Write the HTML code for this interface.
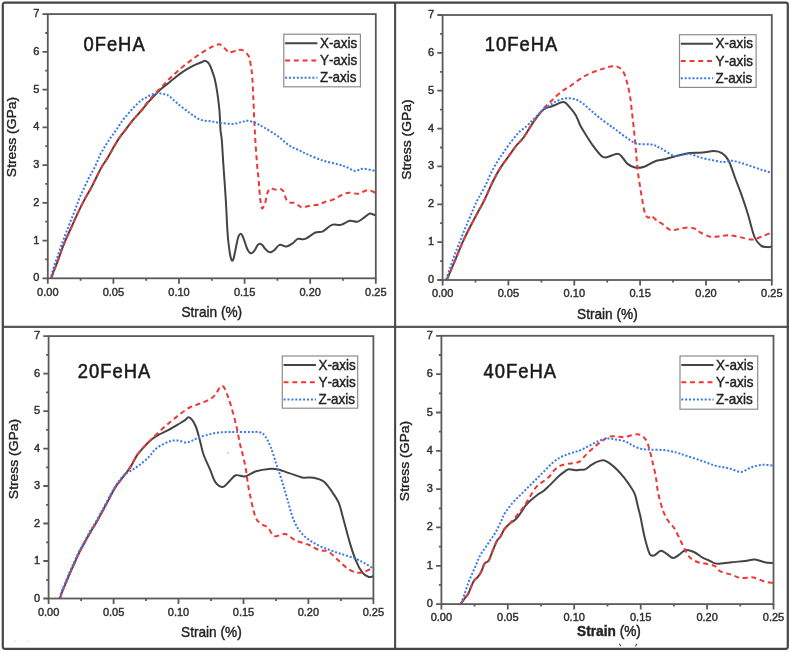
<!DOCTYPE html><html><head><meta charset="utf-8"><style>html,body{margin:0;padding:0;background:#fff;}svg{display:block;filter:blur(0.35px);}text{font-family:"Liberation Sans",sans-serif;font-kerning:none;} .t{fill:#222;stroke:#222;stroke-width:0.4px;} .tk{stroke-width:0.45px;fill:#303030;stroke:#303030;} .ti{fill:#1a1a1a;stroke:#1a1a1a;stroke-width:0.55px;}</style></head><body>
<svg width="790" height="652" viewBox="0 0 790 652">
<rect width="790" height="652" fill="#fff"/>
<clipPath id="c0"><rect x="47.8" y="12.1" width="328.0" height="268.2"/></clipPath>
<g clip-path="url(#c0)" fill="none" stroke-width="2" stroke-linejoin="round">
<path d="M51.2 278.0 C51.7 276.8 53.0 273.1 54.0 270.5 C55.0 267.9 55.5 267.1 57.1 262.7 C58.8 258.3 61.6 249.8 63.9 244.2 C66.1 238.6 68.3 234.1 70.6 229.0 C72.8 223.9 75.2 218.6 77.4 213.8 C79.7 209.0 81.9 204.6 84.1 200.4 C86.3 196.2 88.9 192.0 90.8 188.5 C92.7 185.0 93.5 183.1 95.3 179.5 C97.1 175.9 99.5 170.8 101.6 167.2 C103.7 163.5 105.7 161.0 107.8 157.6 C109.9 154.2 112.0 149.9 114.0 146.6 C116.0 143.3 117.4 140.6 119.5 137.6 C121.6 134.6 124.1 131.6 126.4 128.6 C128.7 125.6 131.4 122.0 133.3 119.7 C135.2 117.4 136.3 116.3 137.8 114.6 C139.3 112.9 140.4 111.7 142.3 109.5 C144.2 107.3 147.0 103.7 149.2 101.2 C151.3 98.7 153.3 96.7 155.2 94.7 C157.1 92.7 158.9 90.8 160.7 89.2 C162.5 87.6 164.3 86.2 165.8 85.1 C167.3 83.9 168.2 83.3 169.5 82.3 C170.8 81.2 171.7 80.4 173.7 78.8 C175.7 77.2 178.6 74.6 181.3 72.8 C184.0 71.0 187.0 69.2 189.7 67.7 C192.4 66.2 195.3 64.8 197.3 63.9 C199.3 63.0 200.2 62.7 201.5 62.2 C202.8 61.7 203.8 60.7 204.9 60.8 C206.0 60.9 207.2 61.7 208.2 62.7 C209.1 63.7 209.8 65.2 210.6 66.8 C211.3 68.4 212.0 70.5 212.7 72.6 C213.4 74.7 214.1 76.1 214.8 79.2 C215.5 82.3 216.3 86.2 217.1 91.3 C217.9 96.4 218.8 103.3 219.4 109.8 C220.0 116.2 220.1 125.0 220.5 130.0 C220.9 135.0 221.3 134.2 221.8 140.0 C222.3 145.8 222.7 155.0 223.4 165.0 C224.1 175.0 225.2 190.0 225.8 200.0 C226.4 210.0 226.8 219.2 227.1 225.0 C227.4 230.8 227.4 231.3 227.7 234.5 C227.9 237.7 228.2 240.8 228.6 244.0 C229.0 247.2 229.5 251.0 229.9 253.5 C230.3 256.0 230.8 258.0 231.2 259.2 C231.6 260.4 231.7 260.8 232.1 260.8 C232.5 260.8 232.9 260.6 233.4 259.2 C233.9 257.8 234.4 254.9 235.0 252.2 C235.6 249.4 236.3 245.3 236.9 242.7 C237.5 240.1 237.9 237.9 238.5 236.4 C239.1 234.9 239.8 234.1 240.4 233.9 C241.0 233.7 241.7 234.4 242.3 235.4 C242.9 236.4 243.6 238.4 244.2 240.2 C244.8 241.9 245.5 244.2 246.1 245.9 C246.7 247.6 247.2 249.1 247.9 250.3 C248.6 251.5 249.7 252.9 250.5 253.2 C251.3 253.5 252.2 252.9 253.0 252.2 C253.8 251.5 254.8 250.2 255.5 249.0 C256.2 247.8 256.6 246.2 257.4 245.3 C258.1 244.4 259.1 243.7 260.0 243.7 C260.9 243.7 261.7 244.5 262.5 245.3 C263.3 246.1 264.1 247.6 265.0 248.7 C265.9 249.8 267.2 251.0 268.2 251.6 C269.2 252.2 269.9 252.5 271.0 252.2 C272.1 251.9 273.1 251.2 274.5 250.0 C275.9 248.8 277.6 245.5 279.6 244.9 C281.6 244.3 284.1 246.8 286.3 246.5 C288.5 246.2 290.8 244.6 292.7 243.3 C294.6 242.0 295.6 239.6 297.7 238.9 C299.8 238.2 302.4 240.0 305.3 238.9 C308.2 237.8 312.4 233.8 315.4 232.5 C318.3 231.2 320.2 232.6 323.0 231.3 C325.8 230.0 328.9 226.0 331.9 224.9 C334.9 223.8 337.9 225.6 340.8 224.9 C343.8 224.2 346.9 221.3 349.6 220.8 C352.3 220.3 354.9 222.3 357.2 221.8 C359.5 221.3 361.4 219.4 363.5 218.0 C365.6 216.6 367.9 213.9 369.9 213.5 C371.9 213.1 374.7 215.3 375.6 215.7" stroke="#444"/>
<path d="M51.2 278.0 C51.7 276.8 53.0 273.1 54.0 270.5 C55.0 267.9 55.5 267.1 57.1 262.7 C58.8 258.3 61.6 249.8 63.9 244.2 C66.1 238.6 68.3 234.1 70.6 229.0 C72.8 223.9 75.2 218.6 77.4 213.8 C79.7 209.0 81.9 204.6 84.1 200.4 C86.3 196.2 88.9 192.0 90.8 188.5 C92.7 185.0 93.5 183.1 95.3 179.5 C97.1 175.9 99.5 170.8 101.6 167.2 C103.7 163.5 105.7 161.0 107.8 157.6 C109.9 154.2 112.0 149.9 114.0 146.6 C116.0 143.3 117.4 140.6 119.5 137.6 C121.6 134.6 124.1 131.6 126.4 128.6 C128.7 125.6 131.4 122.0 133.3 119.7 C135.2 117.4 136.3 116.3 137.8 114.6 C139.3 112.9 140.9 111.2 142.3 109.5 C143.7 107.8 144.5 106.2 146.0 104.2 C147.5 102.2 149.6 99.7 151.5 97.5 C153.4 95.3 155.4 93.2 157.5 91.0 C159.6 88.8 161.9 86.6 163.9 84.6 C165.9 82.5 167.4 80.7 169.5 78.7 C171.6 76.7 173.9 74.4 176.2 72.4 C178.4 70.4 180.8 68.3 183.0 66.5 C185.2 64.7 187.4 63.1 189.7 61.4 C191.9 59.7 194.1 58.0 196.5 56.3 C198.9 54.6 201.5 52.9 204.1 51.3 C206.7 49.7 209.8 47.8 212.3 46.6 C214.8 45.4 217.4 44.4 218.9 44.2 C220.4 44.0 220.1 44.5 221.3 45.4 C222.5 46.3 225.1 48.7 226.3 49.9 C227.5 51.1 227.3 52.2 228.7 52.4 C230.1 52.6 233.0 51.6 234.5 51.2 C236.0 50.9 236.6 50.5 237.8 50.3 C239.0 50.1 240.7 49.6 241.9 49.9 C243.1 50.2 244.1 51.0 245.2 52.0 C246.3 53.0 247.8 54.5 248.5 55.7 C249.2 56.9 249.3 57.5 249.7 59.4 C250.1 61.2 250.6 64.0 251.0 66.8 C251.4 69.5 251.8 70.7 252.2 75.9 C252.6 81.1 253.0 90.5 253.3 98.0 C253.7 105.5 253.9 113.2 254.3 120.7 C254.7 128.2 255.0 135.4 255.5 143.0 C256.0 150.6 256.7 160.1 257.2 166.0 C257.7 171.9 258.1 174.3 258.5 178.2 C258.9 182.1 259.1 186.2 259.4 189.6 C259.7 193.0 259.8 195.8 260.1 198.4 C260.4 201.0 261.0 203.7 261.4 205.4 C261.8 207.1 261.7 208.7 262.3 208.5 C262.9 208.3 264.2 206.1 264.9 204.1 C265.6 202.1 266.0 198.6 266.5 196.5 C267.0 194.4 267.4 192.9 268.0 191.5 C268.6 190.1 269.5 188.7 270.3 188.3 C271.1 187.9 271.7 188.6 272.8 188.9 C273.9 189.2 275.8 189.9 277.2 189.9 C278.6 189.9 279.9 188.9 281.0 189.2 C282.1 189.5 282.8 190.2 283.5 191.5 C284.2 192.8 284.8 195.6 285.4 197.2 C286.0 198.8 286.4 200.1 287.3 201.0 C288.2 201.9 289.3 202.5 290.5 202.8 C291.7 203.1 292.8 202.3 294.3 202.8 C295.8 203.3 298.1 205.2 299.4 206.0 C300.7 206.8 300.6 207.6 302.2 207.6 C303.8 207.6 306.5 206.4 309.1 205.9 C311.7 205.4 315.5 205.3 318.0 204.7 C320.5 204.1 321.8 203.0 324.3 202.2 C326.8 201.3 330.2 200.8 333.2 199.6 C336.1 198.4 339.4 196.1 342.0 194.9 C344.6 193.8 346.2 192.9 349.0 192.7 C351.8 192.5 355.4 194.1 358.5 193.7 C361.6 193.3 364.4 190.3 367.3 190.1 C370.2 189.9 374.2 192.3 375.6 192.7" stroke="#f03535" stroke-dasharray="5 3.6"/>
<path d="M51.2 276.2 C51.7 274.6 53.0 269.6 54.0 266.5 C55.0 263.4 55.6 262.0 57.1 257.7 C58.6 253.4 61.0 246.2 63.0 240.8 C65.0 235.5 66.9 230.7 68.9 225.6 C70.9 220.5 72.8 215.6 74.8 210.5 C76.8 205.4 78.4 200.6 80.7 195.3 C83.0 190.1 86.1 183.7 88.4 179.0 C90.7 174.3 92.7 171.2 94.7 167.2 C96.7 163.2 98.4 158.5 100.2 154.8 C102.0 151.1 103.9 148.2 105.7 145.2 C107.5 142.2 109.4 139.6 111.2 136.9 C113.0 134.2 114.9 132.0 116.7 129.3 C118.5 126.7 120.4 123.5 122.2 121.0 C124.0 118.5 125.9 116.3 127.8 114.1 C129.7 111.9 131.7 109.7 133.3 107.9 C134.9 106.2 136.2 104.9 137.5 103.6 C138.8 102.3 140.2 101.1 141.4 100.2 C142.6 99.3 143.5 99.0 144.6 98.4 C145.7 97.8 146.7 97.2 147.8 96.6 C148.9 96.0 149.8 95.2 151.0 94.7 C152.2 94.2 153.5 94.0 154.7 93.8 C155.9 93.6 157.1 93.3 158.4 93.3 C159.7 93.3 161.2 93.6 162.5 93.8 C163.8 94.0 165.0 94.3 166.2 94.7 C167.4 95.1 167.7 94.9 169.5 96.3 C171.3 97.7 173.8 100.5 177.1 103.2 C180.4 106.0 185.6 110.0 189.5 112.8 C193.4 115.5 196.7 118.3 200.3 119.7 C203.9 121.1 207.7 120.8 211.0 121.3 C214.3 121.8 216.6 122.4 220.2 122.8 C223.8 123.2 228.9 124.0 232.5 123.9 C236.1 123.8 239.1 122.5 241.7 122.0 C244.2 121.5 245.2 120.5 247.8 120.8 C250.4 121.1 254.2 122.4 257.0 123.6 C259.8 124.8 261.1 125.8 264.4 127.7 C267.7 129.7 272.6 132.4 276.7 135.3 C280.8 138.2 285.1 142.7 289.0 145.3 C292.9 147.9 296.9 149.2 300.0 150.7 C303.1 152.2 303.8 152.8 307.6 154.4 C311.4 156.1 317.8 158.9 322.9 160.6 C328.0 162.3 334.2 163.2 338.3 164.4 C342.4 165.6 344.7 166.4 347.5 167.5 C350.3 168.6 352.6 170.7 355.2 170.9 C357.8 171.1 359.5 168.7 362.8 168.7 C366.1 168.7 373.1 170.5 375.1 170.9" stroke="#3a78ea" stroke-dasharray="2 1.85"/>
</g>
<rect x="47.8" y="14.1" width="328.0" height="264.2" fill="none" stroke="#5a5a5a" stroke-width="1.8"/>
<path d="M42.5 278.3H47.8M45.3 259.4H47.8M42.5 240.6H47.8M45.3 221.7H47.8M42.5 202.8H47.8M45.3 183.9H47.8M42.5 165.1H47.8M45.3 146.2H47.8M42.5 127.3H47.8M45.3 108.5H47.8M42.5 89.6H47.8M45.3 70.7H47.8M42.5 51.8H47.8M45.3 33.0H47.8M42.5 14.1H47.8M47.8 278.3V283.8M80.6 278.3V280.8M113.4 278.3V283.8M146.2 278.3V280.8M179.0 278.3V283.8M211.8 278.3V280.8M244.6 278.3V283.8M277.4 278.3V280.8M310.2 278.3V283.8M343.0 278.3V280.8M375.8 278.3V283.8" stroke="#5a5a5a" stroke-width="1.8" fill="none"/>
<text transform="translate(39.4 281.3) scale(0.95 1)" font-size="11.6" text-anchor="end" class="t tk">0</text>
<text transform="translate(39.4 243.6) scale(0.95 1)" font-size="11.6" text-anchor="end" class="t tk">1</text>
<text transform="translate(39.4 205.8) scale(0.95 1)" font-size="11.6" text-anchor="end" class="t tk">2</text>
<text transform="translate(39.4 168.1) scale(0.95 1)" font-size="11.6" text-anchor="end" class="t tk">3</text>
<text transform="translate(39.4 130.3) scale(0.95 1)" font-size="11.6" text-anchor="end" class="t tk">4</text>
<text transform="translate(39.4 92.6) scale(0.95 1)" font-size="11.6" text-anchor="end" class="t tk">5</text>
<text transform="translate(39.4 54.8) scale(0.95 1)" font-size="11.6" text-anchor="end" class="t tk">6</text>
<text transform="translate(39.4 17.1) scale(0.95 1)" font-size="11.6" text-anchor="end" class="t tk">7</text>
<text transform="translate(47.8 295.5) scale(0.95 1)" font-size="11.6" text-anchor="middle" class="t tk">0.00</text>
<text transform="translate(113.4 295.5) scale(0.95 1)" font-size="11.6" text-anchor="middle" class="t tk">0.05</text>
<text transform="translate(179.0 295.5) scale(0.95 1)" font-size="11.6" text-anchor="middle" class="t tk">0.10</text>
<text transform="translate(244.6 295.5) scale(0.95 1)" font-size="11.6" text-anchor="middle" class="t tk">0.15</text>
<text transform="translate(310.2 295.5) scale(0.95 1)" font-size="11.6" text-anchor="middle" class="t tk">0.20</text>
<text transform="translate(375.8 295.5) scale(0.95 1)" font-size="11.6" text-anchor="middle" class="t tk">0.25</text>
<text transform="translate(16.4 137.0) rotate(-90) scale(1 0.9)" font-size="13.9" text-anchor="middle" class="t">Stress (GPa)</text>
<text transform="translate(211.8 317.2) scale(0.95 1)" font-size="14.4" text-anchor="middle" class="t">Strain<tspan font-weight="normal"> (%)</tspan></text>
<text transform="translate(83.4 50.9) scale(0.92 1)" font-size="20" letter-spacing="1.1" class="ti">0FeHA</text>
<rect x="283.8" y="34.2" width="76.6" height="52.6" fill="#fff" stroke="#8c8c8c" stroke-width="1.2"/>
<path d="M285.1 43.2H317.4" stroke="#444" stroke-width="2"/>
<text transform="translate(319.9 47.9) scale(0.95 1)" font-size="14.2" class="t">X-axis</text>
<path d="M285.1 60.5H317.4" stroke="#f03535" stroke-width="2" stroke-dasharray="4.9 3.85"/>
<text transform="translate(319.9 65.2) scale(0.95 1)" font-size="14.2" class="t">Y-axis</text>
<path d="M285.1 77.7H317.4" stroke="#3a78ea" stroke-width="2" stroke-dasharray="2 1.9"/>
<text transform="translate(319.9 82.4) scale(0.95 1)" font-size="14.2" class="t">Z-axis</text>
<clipPath id="c1"><rect x="442.6" y="13.0" width="329.2" height="269.0"/></clipPath>
<g clip-path="url(#c1)" fill="none" stroke-width="2" stroke-linejoin="round">
<path d="M446.9 279.7 C448.3 276.4 452.6 266.2 455.3 259.8 C458.0 253.4 460.2 247.5 463.0 241.3 C465.8 235.2 469.6 227.9 472.2 222.9 C474.8 217.9 476.3 215.1 478.4 211.2 C480.5 207.3 482.2 204.6 484.6 199.6 C487.0 194.6 490.3 186.6 493.0 181.2 C495.7 175.8 498.1 171.5 500.7 167.4 C503.2 163.3 505.8 160.3 508.3 156.7 C510.9 153.1 513.5 149.2 516.0 146.0 C518.5 142.8 521.3 140.6 523.6 137.5 C525.9 134.4 527.8 130.8 529.8 127.6 C531.8 124.4 533.9 121.2 535.9 118.4 C537.9 115.6 540.2 112.5 542.0 110.7 C543.8 108.9 545.3 108.3 546.6 107.7 C547.9 107.1 548.7 107.3 550.0 106.9 C551.3 106.5 552.2 106.0 554.5 105.2 C556.8 104.4 561.2 101.5 563.8 102.0 C566.4 102.5 568.2 105.7 570.2 107.9 C572.2 110.1 574.1 112.3 575.8 115.2 C577.5 118.1 578.6 122.2 580.3 125.5 C582.0 128.8 583.7 131.3 585.8 134.7 C587.9 138.1 590.6 142.4 593.1 145.8 C595.6 149.2 598.4 153.1 600.5 155.0 C602.6 156.9 602.7 157.7 605.5 157.5 C608.3 157.3 614.6 153.8 617.5 153.8 C620.4 153.8 620.9 156.0 622.6 157.7 C624.3 159.4 625.5 162.2 627.6 163.9 C629.7 165.6 632.2 167.1 635.0 167.6 C637.8 168.1 640.8 167.8 644.2 166.7 C647.6 165.6 651.8 162.4 655.2 161.2 C658.6 160.0 660.8 160.2 664.5 159.3 C668.2 158.4 673.0 156.8 677.3 155.7 C681.6 154.6 685.9 153.4 690.2 152.9 C694.5 152.4 699.0 152.9 702.9 152.6 C706.8 152.3 710.5 151.0 713.7 151.1 C716.9 151.2 719.8 151.7 722.3 153.3 C724.8 154.9 726.6 156.7 728.7 160.8 C730.8 164.9 733.0 172.3 735.1 178.0 C737.2 183.7 739.5 189.0 741.6 195.1 C743.8 201.2 745.9 207.5 748.0 214.5 C750.1 221.5 752.4 231.8 754.5 237.0 C756.6 242.2 758.8 243.9 760.9 245.6 C763.0 247.3 765.5 246.9 767.3 247.1 C769.1 247.3 770.9 246.8 771.6 246.7" stroke="#444"/>
<path d="M446.9 279.7 C448.3 276.4 452.6 266.2 455.3 259.8 C458.0 253.4 460.2 247.5 463.0 241.3 C465.8 235.2 469.6 227.9 472.2 222.9 C474.8 217.9 476.3 215.1 478.4 211.2 C480.5 207.3 482.2 204.6 484.6 199.6 C487.0 194.6 490.3 186.6 493.0 181.2 C495.7 175.8 498.1 171.5 500.7 167.4 C503.2 163.3 505.8 160.3 508.3 156.7 C510.9 153.1 513.5 149.2 516.0 146.0 C518.5 142.8 521.3 140.6 523.6 137.5 C525.9 134.4 527.8 130.8 529.8 127.6 C531.8 124.4 533.9 121.2 535.9 118.4 C537.9 115.6 540.3 112.8 542.0 110.7 C543.7 108.6 544.7 107.4 546.0 106.0 C547.3 104.6 548.6 103.7 550.0 102.3 C551.4 100.9 552.3 99.8 554.5 97.8 C556.7 95.8 560.2 92.6 563.1 90.5 C566.0 88.4 568.5 87.2 571.7 85.0 C574.9 82.8 578.5 79.8 582.1 77.6 C585.7 75.4 589.4 73.6 593.1 72.1 C596.8 70.6 601.0 69.4 604.2 68.4 C607.4 67.4 610.0 66.4 612.5 66.2 C615.0 66.0 617.1 66.5 618.9 67.5 C620.7 68.5 622.1 69.5 623.5 72.1 C624.9 74.7 626.1 79.1 627.2 83.1 C628.3 87.1 629.2 91.4 630.0 96.0 C630.8 100.6 631.2 105.6 631.8 110.8 C632.4 116.0 633.1 121.5 633.7 127.3 C634.3 133.1 635.0 140.4 635.5 145.8 C636.0 151.2 636.3 155.6 636.7 160.0 C637.1 164.4 637.3 167.6 637.9 172.3 C638.5 177.0 639.5 183.1 640.3 188.2 C641.1 193.3 642.0 198.6 642.8 202.9 C643.6 207.2 644.3 211.5 645.2 214.0 C646.1 216.5 647.3 217.4 648.3 217.7 C649.3 218.0 650.1 215.4 651.4 215.8 C652.7 216.2 654.4 218.7 656.3 220.1 C658.2 221.5 660.6 222.8 663.0 224.4 C665.4 226.1 667.9 229.2 670.4 230.0 C672.9 230.8 674.9 229.7 677.8 229.3 C680.7 228.9 684.7 227.6 687.6 227.5 C690.5 227.4 692.8 227.8 695.0 228.7 C697.2 229.5 697.9 231.2 700.6 232.6 C703.3 234.0 708.0 236.4 711.2 237.0 C714.4 237.6 717.1 236.4 720.0 236.1 C722.9 235.8 725.6 235.0 728.8 235.2 C732.0 235.3 735.6 236.3 739.4 237.0 C743.2 237.7 748.2 239.6 751.7 239.6 C755.2 239.6 757.2 238.2 760.5 237.0 C763.8 235.8 769.8 233.3 771.6 232.6" stroke="#f03535" stroke-dasharray="5 3.6"/>
<path d="M446.1 279.7 C446.8 277.8 448.7 271.8 450.0 268.0 C451.3 264.2 452.6 260.4 453.8 257.0 C455.1 253.6 456.2 250.8 457.5 247.5 C458.8 244.2 460.2 240.8 461.5 237.5 C462.8 234.2 464.1 230.8 465.5 227.5 C466.9 224.2 468.4 220.8 469.8 217.5 C471.2 214.2 472.6 210.7 474.0 207.5 C475.4 204.3 476.5 201.7 478.4 198.1 C480.3 194.5 483.1 190.2 485.3 185.8 C487.5 181.5 489.4 176.1 491.5 172.0 C493.6 167.9 495.6 164.6 497.6 161.3 C499.6 158.0 501.4 155.4 503.7 152.1 C506.0 148.8 508.8 144.7 511.4 141.4 C513.9 138.1 516.5 134.8 519.0 132.2 C521.5 129.6 524.4 128.1 526.7 126.1 C529.0 124.0 530.8 122.0 532.8 119.9 C534.8 117.9 537.0 115.7 539.0 113.8 C541.0 111.9 543.3 110.1 545.1 108.6 C546.9 107.1 548.4 106.1 550.0 105.0 C551.6 103.9 552.5 103.2 554.5 102.2 C556.5 101.2 559.4 99.8 561.9 99.1 C564.4 98.4 566.8 98.2 569.3 98.3 C571.8 98.4 574.4 98.8 576.6 99.7 C578.9 100.6 580.3 101.6 582.8 103.4 C585.2 105.2 588.4 108.3 591.3 110.8 C594.1 113.2 596.8 115.6 599.9 118.1 C603.0 120.5 607.5 123.7 610.0 125.5 C612.5 127.3 612.5 127.2 615.2 129.2 C617.9 131.2 622.7 135.1 626.3 137.5 C629.9 139.9 632.6 142.5 636.8 143.7 C641.0 144.9 647.6 143.8 651.6 144.6 C655.6 145.4 657.1 146.5 660.8 148.3 C664.5 150.2 670.0 154.6 673.7 155.7 C677.4 156.8 680.2 155.0 682.9 154.7 C685.6 154.4 687.0 153.6 690.0 154.1 C693.0 154.6 696.8 156.6 700.6 157.6 C704.4 158.6 709.1 159.6 712.9 160.3 C716.7 161.0 720.3 161.9 723.5 162.0 C726.7 162.1 729.4 160.7 732.3 160.8 C735.2 161.0 737.9 162.0 741.1 162.9 C744.3 163.8 748.2 165.3 751.7 166.5 C755.2 167.7 759.1 169.0 762.3 170.0 C765.5 171.0 769.6 172.2 771.1 172.6" stroke="#3a78ea" stroke-dasharray="2 1.85"/>
</g>
<rect x="442.6" y="15.0" width="329.2" height="265.0" fill="none" stroke="#5a5a5a" stroke-width="1.8"/>
<path d="M437.3 280.0H442.6M440.1 261.1H442.6M437.3 242.1H442.6M440.1 223.2H442.6M437.3 204.3H442.6M440.1 185.4H442.6M437.3 166.4H442.6M440.1 147.5H442.6M437.3 128.6H442.6M440.1 109.6H442.6M437.3 90.7H442.6M440.1 71.8H442.6M437.3 52.9H442.6M440.1 33.9H442.6M437.3 15.0H442.6M442.6 280.0V285.5M475.5 280.0V282.5M508.4 280.0V285.5M541.4 280.0V282.5M574.3 280.0V285.5M607.2 280.0V282.5M640.1 280.0V285.5M673.0 280.0V282.5M706.0 280.0V285.5M738.9 280.0V282.5M771.8 280.0V285.5" stroke="#5a5a5a" stroke-width="1.8" fill="none"/>
<text transform="translate(434.2 283.0) scale(0.95 1)" font-size="11.6" text-anchor="end" class="t tk">0</text>
<text transform="translate(434.2 245.1) scale(0.95 1)" font-size="11.6" text-anchor="end" class="t tk">1</text>
<text transform="translate(434.2 207.3) scale(0.95 1)" font-size="11.6" text-anchor="end" class="t tk">2</text>
<text transform="translate(434.2 169.4) scale(0.95 1)" font-size="11.6" text-anchor="end" class="t tk">3</text>
<text transform="translate(434.2 131.6) scale(0.95 1)" font-size="11.6" text-anchor="end" class="t tk">4</text>
<text transform="translate(434.2 93.7) scale(0.95 1)" font-size="11.6" text-anchor="end" class="t tk">5</text>
<text transform="translate(434.2 55.9) scale(0.95 1)" font-size="11.6" text-anchor="end" class="t tk">6</text>
<text transform="translate(434.2 18.0) scale(0.95 1)" font-size="11.6" text-anchor="end" class="t tk">7</text>
<text transform="translate(442.6 297.2) scale(0.95 1)" font-size="11.6" text-anchor="middle" class="t tk">0.00</text>
<text transform="translate(508.4 297.2) scale(0.95 1)" font-size="11.6" text-anchor="middle" class="t tk">0.05</text>
<text transform="translate(574.3 297.2) scale(0.95 1)" font-size="11.6" text-anchor="middle" class="t tk">0.10</text>
<text transform="translate(640.1 297.2) scale(0.95 1)" font-size="11.6" text-anchor="middle" class="t tk">0.15</text>
<text transform="translate(706.0 297.2) scale(0.95 1)" font-size="11.6" text-anchor="middle" class="t tk">0.20</text>
<text transform="translate(771.8 297.2) scale(0.95 1)" font-size="11.6" text-anchor="middle" class="t tk">0.25</text>
<text transform="translate(411.3 139.5) rotate(-90) scale(1 0.9)" font-size="13.9" text-anchor="middle" class="t">Stress (GPa)</text>
<text transform="translate(607.4 319.0) scale(0.95 1)" font-size="14.4" text-anchor="middle" class="t">Strain<tspan font-weight="normal"> (%)</tspan></text>
<text transform="translate(484.7 50.9) scale(0.92 1)" font-size="20" letter-spacing="1.1" class="ti">10FeHA</text>
<rect x="679.5" y="34.7" width="76.6" height="52.7" fill="#fff" stroke="#8c8c8c" stroke-width="1.2"/>
<path d="M680.8 43.7H713.1" stroke="#444" stroke-width="2"/>
<text transform="translate(715.6 48.4) scale(0.95 1)" font-size="14.2" class="t">X-axis</text>
<path d="M680.8 61.0H713.1" stroke="#f03535" stroke-width="2" stroke-dasharray="4.9 3.85"/>
<text transform="translate(715.6 65.7) scale(0.95 1)" font-size="14.2" class="t">Y-axis</text>
<path d="M680.8 78.2H713.1" stroke="#3a78ea" stroke-width="2" stroke-dasharray="2 1.9"/>
<text transform="translate(715.6 82.9) scale(0.95 1)" font-size="14.2" class="t">Z-axis</text>
<clipPath id="c2"><rect x="48.6" y="334.1" width="324.8" height="266.4"/></clipPath>
<g clip-path="url(#c2)" fill="none" stroke-width="2" stroke-linejoin="round">
<path d="M59.9 598.5 C60.3 597.2 61.6 593.4 62.5 591.0 C63.4 588.6 64.0 587.4 65.3 584.4 C66.5 581.4 68.3 576.9 70.0 573.0 C71.7 569.1 73.6 565.0 75.3 561.3 C77.0 557.6 78.3 554.3 80.0 551.0 C81.7 547.7 83.5 544.6 85.3 541.4 C87.0 538.2 88.7 535.1 90.5 532.0 C92.3 528.9 94.2 526.2 96.0 523.0 C97.8 519.8 99.7 516.3 101.5 513.0 C103.3 509.7 104.4 507.6 106.8 503.1 C109.2 498.7 113.0 491.0 116.0 486.3 C119.0 481.6 122.0 478.5 124.5 475.2 C127.0 471.9 128.6 469.9 130.7 466.6 C132.8 463.3 134.8 458.7 136.8 455.6 C138.8 452.5 140.5 450.9 142.9 448.2 C145.3 445.5 148.8 441.9 151.5 439.6 C154.2 437.4 156.0 436.3 158.9 434.7 C161.8 433.1 165.4 431.6 168.7 429.8 C172.0 428.0 175.9 425.7 178.6 424.1 C181.3 422.5 183.1 421.5 184.7 420.4 C186.3 419.3 187.2 417.4 188.4 417.3 C189.6 417.2 190.9 418.3 192.1 419.8 C193.3 421.3 194.7 423.8 195.8 426.5 C196.9 429.2 197.9 433.0 198.8 436.3 C199.7 439.6 200.5 443.1 201.3 446.2 C202.1 449.3 202.2 451.1 203.7 455.0 C205.1 458.9 208.0 464.8 210.0 469.4 C212.0 473.9 213.3 479.4 215.5 482.3 C217.7 485.2 220.8 486.9 222.9 486.9 C225.1 486.9 226.2 484.2 228.4 482.3 C230.6 480.4 233.0 476.3 235.8 475.3 C238.6 474.3 241.6 477.1 245.0 476.4 C248.4 475.7 252.0 472.6 256.0 471.3 C260.0 470.1 265.2 469.2 268.9 468.9 C272.6 468.6 274.7 468.7 278.1 469.4 C281.5 470.1 285.2 471.8 289.2 473.1 C293.2 474.4 298.1 476.6 302.1 477.4 C306.1 478.2 309.5 477.0 313.1 477.7 C316.7 478.4 320.5 479.1 323.7 481.5 C326.9 483.9 329.8 488.6 332.3 492.2 C334.8 495.8 337.0 498.6 338.8 502.9 C340.6 507.2 341.3 511.6 343.1 518.0 C344.9 524.5 347.4 534.5 349.5 541.6 C351.6 548.8 353.9 555.7 356.0 560.9 C358.1 566.1 360.3 570.0 362.4 572.7 C364.5 575.4 367.0 576.5 368.8 577.0 C370.6 577.5 372.4 576.2 373.1 576.0" stroke="#444"/>
<path d="M59.9 598.5 C60.3 597.2 61.6 593.4 62.5 591.0 C63.4 588.6 64.0 587.4 65.3 584.4 C66.5 581.4 68.3 576.9 70.0 573.0 C71.7 569.1 73.6 565.0 75.3 561.3 C77.0 557.6 78.3 554.3 80.0 551.0 C81.7 547.7 83.5 544.6 85.3 541.4 C87.0 538.2 88.7 535.1 90.5 532.0 C92.3 528.9 94.2 526.2 96.0 523.0 C97.8 519.8 99.7 516.3 101.5 513.0 C103.3 509.7 104.4 507.6 106.8 503.1 C109.2 498.7 113.0 491.0 116.0 486.3 C119.0 481.6 122.0 478.5 124.5 475.2 C127.0 471.9 128.6 469.9 130.7 466.6 C132.8 463.3 134.8 458.7 136.8 455.6 C138.8 452.5 140.5 450.9 142.9 448.2 C145.3 445.5 148.4 442.3 151.5 439.2 C154.6 436.1 158.0 432.8 161.3 429.8 C164.6 426.8 168.1 423.8 171.2 421.2 C174.3 418.6 176.7 416.6 179.8 414.3 C182.9 412.0 186.3 409.2 189.6 407.5 C192.9 405.8 196.1 405.1 199.4 403.8 C202.7 402.5 206.6 401.0 209.3 399.5 C212.0 398.0 213.6 396.7 215.4 394.6 C217.2 392.5 218.9 387.9 220.3 386.7 C221.7 385.5 222.8 385.8 224.0 387.3 C225.2 388.8 226.5 392.6 227.7 395.9 C228.9 399.2 230.1 402.8 231.3 406.9 C232.5 411.0 234.0 416.3 235.0 420.4 C236.0 424.5 236.7 427.5 237.5 431.4 C238.3 435.3 239.1 440.0 239.9 443.7 C240.7 447.4 241.4 449.2 242.4 453.5 C243.4 457.8 244.9 463.7 245.9 469.4 C246.9 475.1 247.1 480.2 248.6 487.9 C250.1 495.6 253.0 509.9 255.0 515.8 C257.0 521.7 258.2 521.3 260.4 523.3 C262.5 525.3 265.6 525.5 267.9 527.6 C270.2 529.8 271.5 535.1 274.4 536.2 C277.3 537.3 281.5 533.4 285.1 534.1 C288.7 534.8 291.9 538.7 295.8 540.5 C299.7 542.3 304.8 543.2 308.7 544.8 C312.6 546.4 316.2 549.1 319.4 550.2 C322.6 551.3 325.1 549.9 328.0 551.3 C330.9 552.7 333.4 555.9 336.6 558.8 C339.8 561.6 344.0 566.1 347.4 568.4 C350.8 570.7 354.1 572.2 357.0 572.7 C359.9 573.2 361.8 572.6 364.5 571.7 C367.2 570.8 371.7 568.1 373.1 567.4" stroke="#f03535" stroke-dasharray="5 3.6"/>
<path d="M59.4 598.5 C59.8 597.2 60.9 593.4 61.7 591.0 C62.6 588.6 63.2 587.4 64.5 584.4 C65.8 581.4 67.5 576.9 69.2 573.0 C70.9 569.1 72.8 565.0 74.5 561.3 C76.2 557.6 77.5 554.3 79.2 551.0 C80.9 547.7 82.8 544.6 84.5 541.4 C86.2 538.2 87.9 535.1 89.7 532.0 C91.5 528.9 93.4 526.2 95.2 523.0 C97.0 519.8 98.9 516.3 100.7 513.0 C102.5 509.7 103.6 507.6 106.0 503.1 C108.4 498.7 112.3 491.0 115.3 486.3 C118.3 481.6 121.2 477.9 124.0 475.2 C126.8 472.5 129.2 472.1 131.9 470.3 C134.7 468.5 137.6 466.4 140.5 464.2 C143.4 461.9 146.7 459.3 149.1 456.8 C151.5 454.3 152.8 451.5 155.2 449.4 C157.6 447.2 161.1 445.3 163.8 443.9 C166.5 442.5 168.7 441.4 171.2 440.9 C173.7 440.3 176.1 440.3 178.6 440.6 C181.1 440.9 183.8 442.5 186.0 442.5 C188.2 442.5 190.1 441.4 192.1 440.6 C194.1 439.8 195.8 438.5 198.2 437.6 C200.6 436.7 203.7 435.9 206.8 435.1 C209.9 434.3 213.3 433.2 216.6 432.7 C219.9 432.2 223.1 432.2 226.4 432.1 C229.7 432.0 232.4 432.1 236.3 432.1 C240.2 432.1 246.1 432.1 250.0 432.1 C253.9 432.1 257.2 431.5 259.7 432.2 C262.2 432.9 263.3 433.8 265.2 436.3 C267.1 438.8 268.9 442.7 270.8 447.3 C272.7 451.9 274.5 458.4 276.3 463.9 C278.1 469.4 280.0 474.7 281.8 480.5 C283.6 486.3 285.2 492.1 287.2 498.7 C289.2 505.3 291.2 514.2 293.7 520.1 C296.2 526.0 298.7 530.2 302.3 534.1 C305.9 538.0 310.6 541.0 315.2 543.7 C319.8 546.4 325.5 548.4 330.2 550.2 C334.9 552.0 338.8 553.1 343.1 554.5 C347.4 555.9 352.4 557.4 356.0 558.8 C359.6 560.2 361.6 561.5 364.5 563.1 C367.4 564.7 371.7 567.5 373.1 568.4" stroke="#3a78ea" stroke-dasharray="2 1.85"/>
</g>
<rect x="48.6" y="336.1" width="324.8" height="262.4" fill="none" stroke="#5a5a5a" stroke-width="1.8"/>
<path d="M43.3 598.5H48.6M46.1 579.8H48.6M43.3 561.0H48.6M46.1 542.3H48.6M43.3 523.5H48.6M46.1 504.8H48.6M43.3 486.0H48.6M46.1 467.3H48.6M43.3 448.6H48.6M46.1 429.8H48.6M43.3 411.1H48.6M46.1 392.3H48.6M43.3 373.6H48.6M46.1 354.8H48.6M43.3 336.1H48.6M48.6 598.5V604.0M81.1 598.5V601.0M113.6 598.5V604.0M146.0 598.5V601.0M178.5 598.5V604.0M211.0 598.5V601.0M243.5 598.5V604.0M276.0 598.5V601.0M308.4 598.5V604.0M340.9 598.5V601.0M373.4 598.5V604.0" stroke="#5a5a5a" stroke-width="1.8" fill="none"/>
<text transform="translate(40.2 601.5) scale(0.95 1)" font-size="11.6" text-anchor="end" class="t tk">0</text>
<text transform="translate(40.2 564.0) scale(0.95 1)" font-size="11.6" text-anchor="end" class="t tk">1</text>
<text transform="translate(40.2 526.5) scale(0.95 1)" font-size="11.6" text-anchor="end" class="t tk">2</text>
<text transform="translate(40.2 489.0) scale(0.95 1)" font-size="11.6" text-anchor="end" class="t tk">3</text>
<text transform="translate(40.2 451.6) scale(0.95 1)" font-size="11.6" text-anchor="end" class="t tk">4</text>
<text transform="translate(40.2 414.1) scale(0.95 1)" font-size="11.6" text-anchor="end" class="t tk">5</text>
<text transform="translate(40.2 376.6) scale(0.95 1)" font-size="11.6" text-anchor="end" class="t tk">6</text>
<text transform="translate(40.2 339.1) scale(0.95 1)" font-size="11.6" text-anchor="end" class="t tk">7</text>
<text transform="translate(48.6 615.7) scale(0.95 1)" font-size="11.6" text-anchor="middle" class="t tk">0.00</text>
<text transform="translate(113.6 615.7) scale(0.95 1)" font-size="11.6" text-anchor="middle" class="t tk">0.05</text>
<text transform="translate(178.5 615.7) scale(0.95 1)" font-size="11.6" text-anchor="middle" class="t tk">0.10</text>
<text transform="translate(243.5 615.7) scale(0.95 1)" font-size="11.6" text-anchor="middle" class="t tk">0.15</text>
<text transform="translate(308.4 615.7) scale(0.95 1)" font-size="11.6" text-anchor="middle" class="t tk">0.20</text>
<text transform="translate(373.4 615.7) scale(0.95 1)" font-size="11.6" text-anchor="middle" class="t tk">0.25</text>
<text transform="translate(17.7 459.0) rotate(-90) scale(1 0.9)" font-size="13.9" text-anchor="middle" class="t">Stress (GPa)</text>
<text transform="translate(211.4 636.5) scale(0.95 1)" font-size="14.4" text-anchor="middle" class="t">Strain<tspan font-weight="normal"> (%)</tspan></text>
<text transform="translate(77.7 377.8) scale(0.92 1)" font-size="20" letter-spacing="1.1" class="ti">20FeHA</text>
<rect x="282.3" y="356.0" width="75.4" height="52.2" fill="#fff" stroke="#8c8c8c" stroke-width="1.2"/>
<path d="M283.6 365.0H315.9" stroke="#444" stroke-width="2"/>
<text transform="translate(318.4 369.7) scale(0.95 1)" font-size="14.2" class="t">X-axis</text>
<path d="M283.6 382.2H315.9" stroke="#f03535" stroke-width="2" stroke-dasharray="4.9 3.85"/>
<text transform="translate(318.4 386.9) scale(0.95 1)" font-size="14.2" class="t">Y-axis</text>
<path d="M283.6 399.5H315.9" stroke="#3a78ea" stroke-width="2" stroke-dasharray="2 1.9"/>
<text transform="translate(318.4 404.2) scale(0.95 1)" font-size="14.2" class="t">Z-axis</text>
<clipPath id="c3"><rect x="441.4" y="333.8" width="332.1" height="272.3"/></clipPath>
<g clip-path="url(#c3)" fill="none" stroke-width="2" stroke-linejoin="round">
<path d="M460.9 603.7 C461.4 602.9 463.0 600.6 464.2 599.0 C465.4 597.4 467.0 596.0 468.2 593.8 C469.4 591.6 470.5 588.1 471.5 585.9 C472.5 583.7 473.0 582.1 474.1 580.6 C475.2 579.1 476.9 578.2 478.1 576.7 C479.3 575.2 480.3 573.6 481.4 571.4 C482.5 569.2 483.4 565.3 484.6 563.5 C485.8 561.7 487.4 562.6 488.6 560.8 C489.8 559.0 490.9 555.3 491.9 552.9 C492.9 550.5 493.6 548.5 494.5 546.4 C495.4 544.3 496.2 542.0 497.2 540.4 C498.2 538.8 499.3 538.4 500.5 536.5 C501.7 534.6 502.9 531.3 504.4 529.2 C505.9 527.1 507.5 525.6 509.3 524.0 C511.1 522.4 513.5 521.3 515.4 519.5 C517.3 517.7 518.9 515.4 520.6 513.0 C522.4 510.6 524.1 507.4 525.9 505.2 C527.6 503.0 529.1 501.7 531.1 500.0 C533.1 498.3 535.7 496.2 537.6 494.8 C539.5 493.4 540.8 493.0 542.8 491.5 C544.8 490.0 547.3 487.5 549.3 485.6 C551.2 483.8 552.8 482.1 554.5 480.4 C556.2 478.7 558.0 476.7 559.8 475.2 C561.5 473.7 563.5 472.3 565.0 471.3 C566.5 470.3 567.2 469.5 568.9 469.3 C570.6 469.1 573.5 470.1 575.4 470.2 C577.2 470.3 578.4 469.9 580.0 469.8 C581.6 469.7 583.1 470.2 585.1 469.3 C587.1 468.4 589.8 465.9 591.8 464.7 C593.8 463.5 594.9 462.6 596.9 461.9 C598.9 461.1 601.4 459.9 603.6 460.2 C605.9 460.5 608.1 462.3 610.4 463.9 C612.6 465.5 614.9 467.6 617.1 469.8 C619.4 472.1 621.6 474.6 623.9 477.4 C626.1 480.2 628.8 483.9 630.6 486.7 C632.4 489.5 633.6 490.8 634.9 494.3 C636.2 497.8 637.3 504.2 638.2 507.8 C639.1 511.4 639.2 511.0 640.3 516.0 C641.4 521.0 643.2 531.7 644.8 538.0 C646.4 544.3 648.1 551.0 649.7 553.9 C651.3 556.8 652.8 555.7 654.6 555.2 C656.5 554.7 658.8 550.9 660.8 550.7 C662.8 550.5 664.9 552.7 666.9 553.9 C668.9 555.1 671.0 558.0 673.0 558.1 C675.0 558.2 677.2 556.0 679.2 554.7 C681.2 553.4 682.8 550.7 685.3 550.2 C687.8 549.8 691.0 550.8 693.9 552.0 C696.8 553.2 700.1 556.3 702.5 557.6 C704.9 558.9 705.9 559.0 708.0 560.0 C710.1 561.0 712.9 562.8 715.0 563.4 C717.1 564.0 717.7 563.8 720.4 563.6 C723.1 563.4 727.3 562.8 731.4 562.3 C735.5 561.8 741.3 561.4 745.2 560.9 C749.1 560.4 751.7 559.3 754.9 559.5 C758.1 559.7 761.6 561.7 764.6 562.3 C767.6 562.9 771.5 563.0 772.9 563.1" stroke="#444"/>
<path d="M460.9 603.7 C461.4 602.9 463.0 600.6 464.2 599.0 C465.4 597.4 467.0 596.0 468.2 593.8 C469.4 591.6 470.5 588.1 471.5 585.9 C472.5 583.7 473.0 582.1 474.1 580.6 C475.2 579.1 476.9 578.2 478.1 576.7 C479.3 575.2 480.3 573.6 481.4 571.4 C482.5 569.2 483.4 565.3 484.6 563.5 C485.8 561.7 487.4 562.6 488.6 560.8 C489.8 559.0 490.9 555.3 491.9 552.9 C492.9 550.5 493.6 548.5 494.5 546.4 C495.4 544.3 496.2 542.0 497.2 540.4 C498.2 538.8 499.3 538.4 500.5 536.5 C501.7 534.6 502.9 531.3 504.4 529.2 C505.9 527.1 507.2 526.3 509.3 524.0 C511.4 521.7 514.6 518.1 516.7 515.6 C518.8 513.1 520.1 511.5 521.9 509.1 C523.6 506.7 525.7 503.7 527.2 501.3 C528.7 498.9 529.6 497.2 531.1 494.8 C532.6 492.4 534.3 489.1 536.3 486.9 C538.2 484.7 540.6 483.4 542.8 481.7 C545.0 480.0 547.3 478.4 549.3 476.5 C551.2 474.6 552.5 471.9 554.5 470.0 C556.5 468.1 558.5 466.5 561.1 465.4 C563.7 464.3 567.9 463.9 570.2 463.5 C572.5 463.1 573.4 463.2 575.0 462.8 C576.6 462.4 578.0 462.9 580.0 461.4 C582.0 459.9 584.3 456.3 586.8 453.8 C589.3 451.3 592.7 448.3 595.2 446.2 C597.7 444.1 599.6 442.7 601.9 441.1 C604.1 439.6 606.5 437.7 608.7 436.9 C611.0 436.1 612.9 436.3 615.4 436.4 C617.9 436.4 621.4 437.3 623.9 437.2 C626.4 437.1 628.4 436.0 630.6 435.5 C632.9 435.0 635.4 434.2 637.4 434.3 C639.4 434.4 640.8 434.9 642.4 436.0 C644.0 437.1 645.6 439.0 646.7 441.1 C647.8 443.2 648.2 445.2 649.2 448.7 C650.2 452.2 651.5 457.4 652.6 462.2 C653.7 467.0 655.0 472.1 655.9 477.4 C656.8 482.7 657.1 488.2 658.3 493.8 C659.5 499.4 661.6 506.5 663.2 511.0 C664.8 515.5 666.2 517.9 668.1 520.8 C670.0 523.7 672.2 524.9 674.3 528.2 C676.3 531.5 678.4 536.3 680.4 540.4 C682.4 544.5 684.7 549.6 686.5 552.7 C688.3 555.8 689.4 557.2 691.4 558.8 C693.4 560.4 696.3 561.7 698.8 562.5 C701.3 563.3 703.5 563.1 706.2 563.7 C708.9 564.3 712.6 564.9 715.0 566.2 C717.4 567.5 717.7 570.0 720.4 571.4 C723.1 572.8 727.9 573.6 731.4 574.7 C734.9 575.8 737.4 577.5 741.1 578.0 C744.8 578.5 749.6 576.9 753.5 577.5 C757.4 578.1 761.4 580.7 764.6 581.6 C767.8 582.5 771.5 582.8 772.9 583.0" stroke="#f03535" stroke-dasharray="5 3.6"/>
<path d="M460.9 603.7 C461.4 602.3 463.0 598.5 464.2 595.1 C465.4 591.7 466.9 586.7 468.2 583.2 C469.5 579.7 470.8 577.1 472.1 574.0 C473.4 570.9 474.8 567.9 476.1 564.8 C477.4 561.7 478.5 558.5 480.0 555.6 C481.5 552.8 483.5 550.3 485.3 547.7 C487.1 545.1 488.9 542.4 490.6 539.8 C492.4 537.2 494.1 535.0 495.8 531.9 C497.6 528.8 499.6 524.4 501.1 521.3 C502.6 518.1 503.1 516.1 505.0 513.0 C506.9 509.9 510.2 505.6 512.8 502.6 C515.4 499.6 518.0 497.4 520.6 494.8 C523.2 492.2 525.9 489.5 528.5 486.9 C531.1 484.3 533.7 481.7 536.3 479.1 C538.9 476.5 541.5 473.9 544.1 471.3 C546.7 468.7 549.3 465.8 551.9 463.5 C554.5 461.2 557.2 459.1 559.8 457.6 C562.4 456.1 565.0 455.3 567.6 454.3 C570.2 453.3 573.3 452.4 575.4 451.7 C577.5 451.0 577.8 451.3 580.0 450.4 C582.2 449.5 585.3 447.8 588.4 446.2 C591.5 444.6 595.5 442.4 598.6 441.1 C601.7 439.8 604.2 438.9 607.0 438.6 C609.8 438.3 612.3 438.9 615.4 439.4 C618.5 439.9 622.8 440.6 625.6 441.6 C628.4 442.6 629.8 444.1 632.3 445.3 C634.8 446.5 637.9 448.0 640.8 448.7 C643.7 449.4 645.8 449.4 649.7 449.6 C653.6 449.8 659.9 449.6 664.4 450.1 C668.9 450.6 673.0 451.7 676.7 452.6 C680.4 453.6 682.4 454.5 686.5 455.8 C690.6 457.1 696.6 459.1 701.3 460.7 C706.0 462.3 710.3 464.3 714.9 465.6 C719.5 466.9 724.3 467.2 728.7 468.3 C733.1 469.4 737.4 472.0 741.1 471.9 C744.8 471.8 747.3 468.7 750.8 467.5 C754.2 466.3 758.1 465.1 761.8 464.8 C765.5 464.5 771.0 465.5 772.9 465.6" stroke="#3a78ea" stroke-dasharray="2 1.85"/>
</g>
<rect x="441.4" y="335.8" width="332.1" height="268.3" fill="none" stroke="#5a5a5a" stroke-width="1.8"/>
<path d="M436.1 604.1H441.4M438.9 584.9H441.4M436.1 565.8H441.4M438.9 546.6H441.4M436.1 527.4H441.4M438.9 508.3H441.4M436.1 489.1H441.4M438.9 470.0H441.4M436.1 450.8H441.4M438.9 431.6H441.4M436.1 412.5H441.4M438.9 393.3H441.4M436.1 374.1H441.4M438.9 355.0H441.4M436.1 335.8H441.4M441.4 604.1V609.6M474.6 604.1V606.6M507.8 604.1V609.6M541.0 604.1V606.6M574.2 604.1V609.6M607.5 604.1V606.6M640.7 604.1V609.6M673.9 604.1V606.6M707.1 604.1V609.6M740.3 604.1V606.6M773.5 604.1V609.6" stroke="#5a5a5a" stroke-width="1.8" fill="none"/>
<text transform="translate(433.0 607.1) scale(0.95 1)" font-size="11.6" text-anchor="end" class="t tk">0</text>
<text transform="translate(433.0 568.8) scale(0.95 1)" font-size="11.6" text-anchor="end" class="t tk">1</text>
<text transform="translate(433.0 530.4) scale(0.95 1)" font-size="11.6" text-anchor="end" class="t tk">2</text>
<text transform="translate(433.0 492.1) scale(0.95 1)" font-size="11.6" text-anchor="end" class="t tk">3</text>
<text transform="translate(433.0 453.8) scale(0.95 1)" font-size="11.6" text-anchor="end" class="t tk">4</text>
<text transform="translate(433.0 415.5) scale(0.95 1)" font-size="11.6" text-anchor="end" class="t tk">5</text>
<text transform="translate(433.0 377.1) scale(0.95 1)" font-size="11.6" text-anchor="end" class="t tk">6</text>
<text transform="translate(433.0 338.8) scale(0.95 1)" font-size="11.6" text-anchor="end" class="t tk">7</text>
<text transform="translate(441.4 621.3) scale(0.95 1)" font-size="11.6" text-anchor="middle" class="t tk">0.00</text>
<text transform="translate(507.8 621.3) scale(0.95 1)" font-size="11.6" text-anchor="middle" class="t tk">0.05</text>
<text transform="translate(574.2 621.3) scale(0.95 1)" font-size="11.6" text-anchor="middle" class="t tk">0.10</text>
<text transform="translate(640.7 621.3) scale(0.95 1)" font-size="11.6" text-anchor="middle" class="t tk">0.15</text>
<text transform="translate(707.1 621.3) scale(0.95 1)" font-size="11.6" text-anchor="middle" class="t tk">0.20</text>
<text transform="translate(773.5 621.3) scale(0.95 1)" font-size="11.6" text-anchor="middle" class="t tk">0.25</text>
<text transform="translate(409.4 461.0) rotate(-90) scale(1 0.9)" font-size="13.9" text-anchor="middle" class="t">Stress (GPa)</text>
<text transform="translate(609.0 635.9) scale(0.95 1)" font-size="14.4" text-anchor="middle" class="t" font-weight="bold">Strain<tspan font-weight="normal"> (%)</tspan></text>
<text transform="translate(483.5 377.8) scale(0.92 1)" font-size="20" letter-spacing="1.1" class="ti">40FeHA</text>
<rect x="680.0" y="356.0" width="77.7" height="53.2" fill="#fff" stroke="#8c8c8c" stroke-width="1.2"/>
<path d="M681.3 365.0H713.6" stroke="#444" stroke-width="2"/>
<text transform="translate(716.1 369.7) scale(0.95 1)" font-size="14.2" class="t">X-axis</text>
<path d="M681.3 382.2H713.6" stroke="#f03535" stroke-width="2" stroke-dasharray="4.9 3.85"/>
<text transform="translate(716.1 386.9) scale(0.95 1)" font-size="14.2" class="t">Y-axis</text>
<path d="M681.3 399.5H713.6" stroke="#3a78ea" stroke-width="2" stroke-dasharray="2 1.9"/>
<text transform="translate(716.1 404.2) scale(0.95 1)" font-size="14.2" class="t">Z-axis</text>
<circle cx="228.2" cy="452.9" r="1" fill="#c9c3f2"/>
<path d="M619.4 643.7L620.9 646.2M636.9 643.7L635.4 646.2" stroke="#444" stroke-width="1.1" fill="none"/>
<circle cx="14.8" cy="641.1" r="0.9" fill="#ddd"/><circle cx="28.1" cy="641.1" r="0.9" fill="#ddd"/>
<path d="M2 326.9H789" stroke="#585858" stroke-width="2.2" fill="none"/>
<path d="M395.1 2V650" stroke="#4a4a4a" stroke-width="2.1" fill="none"/>
<rect x="2.8" y="2.7" width="785" height="646.1" rx="2" fill="none" stroke="#454545" stroke-width="2.2"/>
</svg></body></html>
